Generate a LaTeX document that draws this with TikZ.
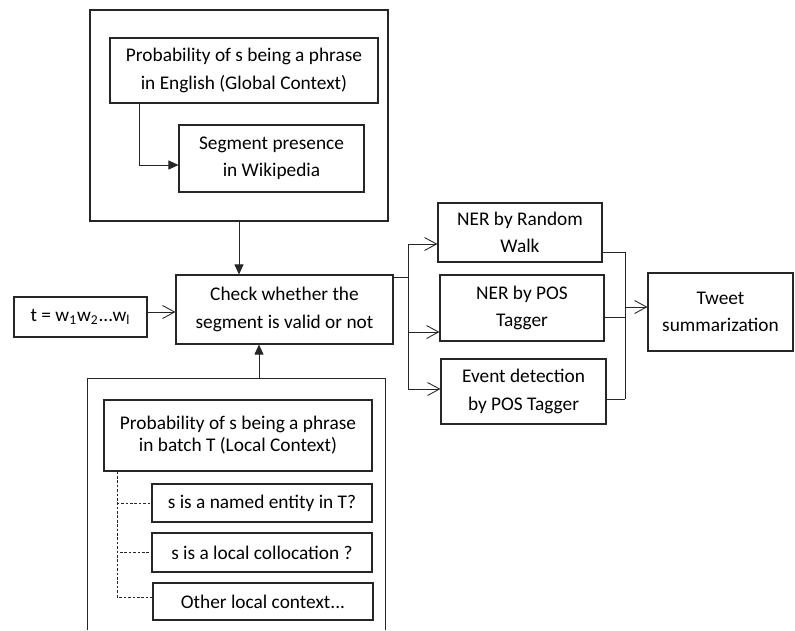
\documentclass[tikz,border=0pt]{standalone}
\usepackage{fontspec}
\setmainfont{Carlito}
\usetikzlibrary{arrows.meta,calc}
\tikzset{
  wbox/.style={draw=black!85,line width=0.6pt,align=center,inner sep=2pt,font=\fontsize{11}{15.6}\selectfont,text=black},
  grp/.style={draw=black!85,line width=0.6pt},
  solidarr/.style={-{Triangle[length=2mm,width=1.8mm]},line width=0.5pt,draw=black!85},
  openarr/.style={-{Straight Barb[length=2.4mm,width=2.6mm]},line width=0.5pt,draw=black!85},
  plain/.style={line width=0.5pt,draw=black!85},
  tree/.style={dash pattern=on 1.5pt off 1pt,line width=0.45pt,draw=black!85}
}
\begin{document}
\begin{tikzpicture}[x=1cm,y=1cm]
  \useasboundingbox (0,0) rectangle (15.9,-12.6);
  % global context
  \node[grp,minimum width=5.96cm,minimum height=4.22cm] (globgrp) at (4.78,-2.31) {};
  \node[wbox,minimum width=5.36cm,minimum height=1.30cm] (glob) at (4.88,-1.41) {Probability of s being a phrase\\ in English (Global Context)};
  \node[wbox,minimum width=3.70cm,minimum height=1.34cm] (wiki) at (5.43,-3.17) {Segment presence\\ in Wikipedia};
  \draw[solidarr] ([xshift=0.6cm]glob.south west) |- ([yshift=-0.13cm]wiki.west);

  % check and input
  \node[wbox,minimum width=4.34cm,minimum height=1.38cm] (chk) at (5.69,-6.19) {Check whether the\\ segment is valid or not};
  \node[wbox,minimum width=2.66cm,minimum height=0.80cm] (inp) at (1.61,-6.34) {t = w\textsubscript{1}w\textsubscript{2}...w\textsubscript{l}};
  \coordinate (inpout) at ([yshift=0.1cm]inp.east);
  \draw[openarr] (inpout) -- (inpout -| chk.west);

  % local context
  \node[minimum width=5.94cm,minimum height=5.02cm] (locgrp) at (4.73,-10.09) {};
  \draw[grp] (locgrp.south west) -- (locgrp.north west) -- (locgrp.north east) -- (locgrp.south east);
  \node[wbox,minimum width=5.36cm,minimum height=1.42cm,font=\fontsize{11}{12.4}\selectfont] (loc) at (4.76,-8.71) {Probability of s being a phrase\\ in batch T (Local Context)};
  \node[wbox,minimum width=4.40cm,minimum height=0.76cm] (ner) at (5.24,-10.06) {s is a named entity in T?};
  \node[wbox,minimum width=4.40cm,minimum height=0.78cm] (coll) at (5.24,-11.05) {s is a local collocation ?};
  \node[wbox,minimum width=4.40cm,minimum height=0.74cm] (oth) at (5.26,-12.03) {Other local context...};
  \coordinate (treetop) at ([xshift=0.28cm]loc.south west);
  \draw[tree] (treetop) |- (ner.west);
  \draw[tree] (treetop) |- (coll.west);
  \draw[tree] (treetop) |- ([yshift=0.09cm]oth.west);

  \draw[solidarr] (globgrp.south) -- (globgrp.south |- chk.north);
  \coordinate (locout) at ([xshift=0.45cm]locgrp.north);
  \draw[solidarr] (locout) -- (locout |- chk.south);

  % detection tasks
  \node[wbox,minimum width=3.28cm,minimum height=1.18cm] (nerrw) at (10.40,-4.65) {NER by Random\\ Walk};
  \node[wbox,minimum width=3.28cm,minimum height=1.32cm] (nerpos) at (10.44,-6.16) {NER by POS\\ Tagger};
  \node[wbox,minimum width=3.30cm,minimum height=1.30cm] (evt) at (10.47,-7.83) {Event detection\\ by POS Tagger};
  \node[wbox,minimum width=2.90cm,minimum height=1.56cm] (tws) at (14.41,-6.24) {Tweet\\ summarization};

  \coordinate (fork) at (8.16,0);
  \coordinate (chkout) at ([yshift=-0.06cm]chk.north east);
  \coordinate (nrwin) at ([yshift=-0.23cm]nerrw.west);
  \coordinate (nposin) at ([yshift=-0.48cm]nerpos.west);
  \coordinate (evtin) at ([yshift=0.05cm]evt.west);
  \draw[plain] (chkout) -- (chkout -| fork);
  \draw[plain] (fork |- nrwin) -- (fork |- evtin);
  \foreach \t in {nrwin,nposin,evtin}
    \draw[openarr] (fork |- \t) -- (\t);

  \coordinate (merge) at (12.5,0);
  \coordinate (nrwout) at ([yshift=-0.39cm]nerrw.east);
  \coordinate (nposout) at ([yshift=-0.18cm]nerpos.east);
  \coordinate (evtout) at ([yshift=-0.15cm]evt.east);
  \coordinate (twsin) at ([yshift=0.1cm]tws.west);
  \foreach \s in {nrwout,nposout,evtout}
    \draw[plain] (\s) -- (\s -| merge);
  \draw[plain] (merge |- nrwout) -- (merge |- evtout);
  \draw[openarr] (merge |- twsin) -- (twsin);
\end{tikzpicture}
\end{document}
